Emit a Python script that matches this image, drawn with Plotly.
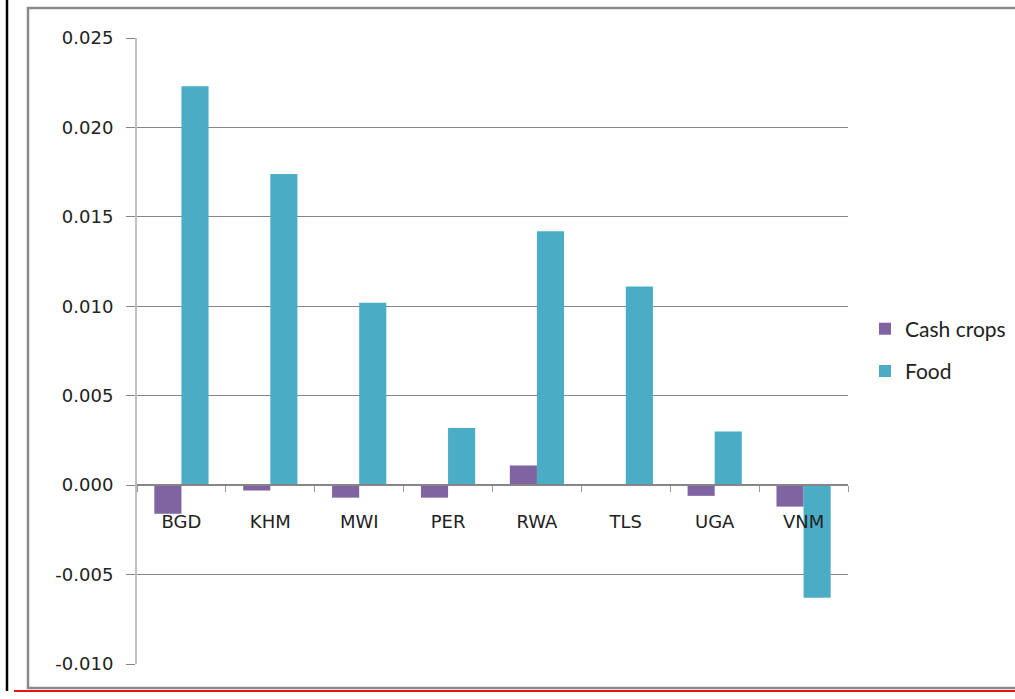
import plotly.graph_objects as go

categories = ["BGD", "KHM", "MWI", "PER", "RWA", "TLS", "UGA", "VNM"]
cash_crops = [-0.0016, -0.0003, -0.0007, -0.0007, 0.0011, 0.0, -0.0006, -0.0012]
food = [0.0223, 0.0174, 0.0102, 0.0032, 0.0142, 0.0111, 0.0030, -0.0063]
series_names = ["Cash crops", "Food"]
y_ticks = [-0.010, -0.005, 0.0, 0.005, 0.010, 0.015, 0.020, 0.025]
y_tick_labels = ["-0.010", "-0.005", "0.000", "0.005", "0.010", "0.015", "0.020", "0.025"]

W, H = 1015, 699
L, R, T, B = 137, 167, 38, 35
PW, PH = W - L - R, H - T - B


def px(x):
    return (x - L) / PW


def py(y):
    return (H - B - y) / PH


fig = go.Figure()
fig.add_trace(go.Bar(x=categories, y=cash_crops, name=series_names[0],
                     marker=dict(color="#8064A2", line=dict(width=0)),
                     legendgroup="a"))
fig.add_trace(go.Bar(x=categories, y=food, name=series_names[1],
                     marker=dict(color="#4BACC6", line=dict(width=0)),
                     legendgroup="b"))

ymin, ymax = y_ticks[0], y_ticks[-1]
zero_pos = (0 - ymin) / (ymax - ymin)

fig.update_layout(
    width=W, height=H,
    margin=dict(l=L, r=R, t=T, b=B, autoexpand=False),
    paper_bgcolor="white", plot_bgcolor="white",
    barmode="group", bargap=0.39, bargroupgap=0,
    font=dict(family="DejaVu Sans", size=18, color="#222222"),
    showlegend=True,
    legend=dict(x=px(865), y=py(350), xanchor="left", yanchor="middle",
                font=dict(family="Lato", size=21, color="#222222"),
                tracegroupgap=12, itemwidth=30, bgcolor="rgba(0,0,0,0)"),
    xaxis=dict(type="category", anchor="free", position=zero_pos,
               showline=True, linecolor="#868686", linewidth=1.5,
               ticks="outside", ticklen=6, tickcolor="#9a9a9a",
               tickson="boundaries", ticklabelstandoff=21,
               showgrid=False, zeroline=False,
               tickfont=dict(family="DejaVu Sans", size=18, color="#222222")),
    yaxis=dict(range=[ymin, ymax], tickvals=y_ticks, ticktext=y_tick_labels,
               showline=True, linecolor="#BFBFBF", linewidth=2,
               ticks="outside", ticklen=9, tickcolor="#868686",
               ticklabelstandoff=9,
               showgrid=True, gridcolor="#868686", gridwidth=1,
               zeroline=False,
               tickfont=dict(family="DejaVu Sans", size=18, color="#222222")),
    shapes=[
        dict(type="rect", xref="paper", yref="paper",
             x0=px(28), x1=px(1020), y0=py(8), y1=py(688),
             line=dict(color="#8a8a8a", width=2.5), layer="below"),
        dict(type="line", xref="paper", yref="paper",
             x0=px(7), x1=px(7), y0=py(0), y1=py(691),
             line=dict(color="black", width=2.5)),
        dict(type="line", xref="paper", yref="paper",
             x0=px(14), x1=px(1015), y0=py(691), y1=py(691),
             line=dict(color="#ee1111", width=2)),
    ],
)

fig.write_html(
    "out.html",
    config={"displayModeBar": False},
    post_script="document.body.style.margin='0';document.body.style.overflow='hidden';",
)
